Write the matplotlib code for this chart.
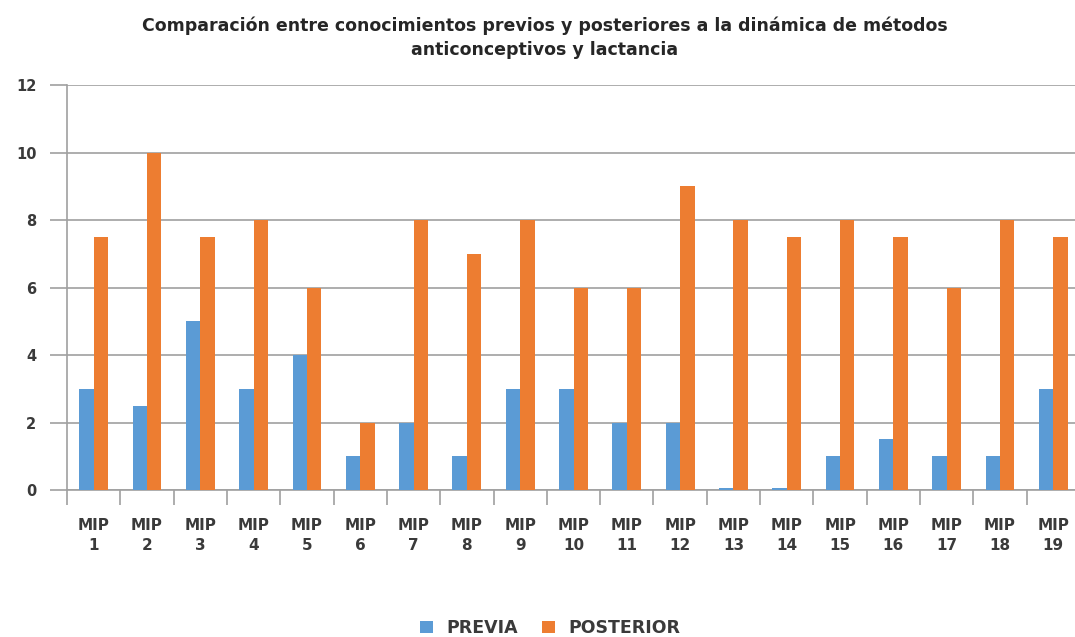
import numpy as np
import matplotlib.pyplot as plt
from matplotlib.ticker import FixedLocator

# Data
categories = [f"MIP\n{i}" for i in range(1, 20)]
previa = [3, 2.5, 5, 3, 4, 1, 2, 1, 3, 3, 2, 2, 0.05, 0.05, 1, 1.5, 1, 1, 3]
posterior = [7.5, 10, 7.5, 8, 6, 2, 8, 7, 8, 6, 6, 9, 8, 7.5, 8, 7.5, 6, 8, 7.5]
y_ticks = [0, 2, 4, 6, 8, 10, 12]

title = ("Comparación entre conocimientos previos y posteriores a la dinámica de métodos\n"
         "anticonceptivos y lactancia")

blue = "#5B9BD5"
orange = "#ED7D31"
grid_gray = "#A0A0A0"
text_gray = "#3A3A3A"

fig = plt.figure(figsize=(10.75, 6.37), dpi=100, facecolor="white")
# the reference is cropped on the right, so the axes run slightly past the edge
ax = fig.add_axes([67 / 1075, 1 - 490 / 637, 1013 / 1075, 405 / 637])

x = np.arange(len(categories))
w = 0.27
ax.bar(x - w / 2, previa, width=w, color=blue, label="PREVIA", zorder=3)
ax.bar(x + w / 2, posterior, width=w, color=orange, label="POSTERIOR", zorder=3)

ax.set_xlim(-0.5, len(categories) - 0.5)
ax.set_ylim(0, 12)

# y axis: gridlines with outward ticks
ax.set_yticks(y_ticks)
ax.yaxis.grid(True, color=grid_gray, linewidth=1.2, zorder=0)
ax.tick_params(axis="y", length=12, width=1.2, color=grid_gray, pad=10,
               labelsize=10.5, labelcolor=text_gray)
for lab in ax.get_yticklabels():
    lab.set_fontweight("bold")

# x axis: tick marks at boundaries, labels at centres
ax.xaxis.set_major_locator(FixedLocator(np.arange(-0.5, len(categories), 1.0)))
ax.xaxis.set_minor_locator(FixedLocator(x))
ax.set_xticklabels([""] * len(ax.get_xticks()))
ax.set_xticklabels(categories, minor=True)
ax.tick_params(axis="x", which="major", length=11, width=1.2, color=grid_gray)
ax.tick_params(axis="x", which="minor", length=0, pad=20, labelsize=11,
               labelcolor=text_gray)
for lab in ax.get_xticklabels(minor=True):
    lab.set_fontweight("bold")
    lab.set_linespacing(1.45)

for side in ["top", "right"]:
    ax.spines[side].set_visible(False)
ax.spines["left"].set_color(grid_gray)
ax.spines["left"].set_linewidth(1.2)
ax.spines["bottom"].set_color(grid_gray)
ax.spines["bottom"].set_linewidth(1.2)

fig.text(0.507, 1 - 38 / 637, title, ha="center", va="center", fontsize=12.5,
         fontweight="bold", color="#262626", linespacing=1.45)

fig.legend(loc="center", bbox_to_anchor=(0.512, 1 - 628 / 637), ncol=2,
           frameon=False, handlelength=0.7, handleheight=0.7,
           columnspacing=1.4, handletextpad=0.8, labelcolor=text_gray,
           prop={"weight": "bold", "size": 12.5})

fig.savefig("out.png", dpi=100, facecolor="white")
